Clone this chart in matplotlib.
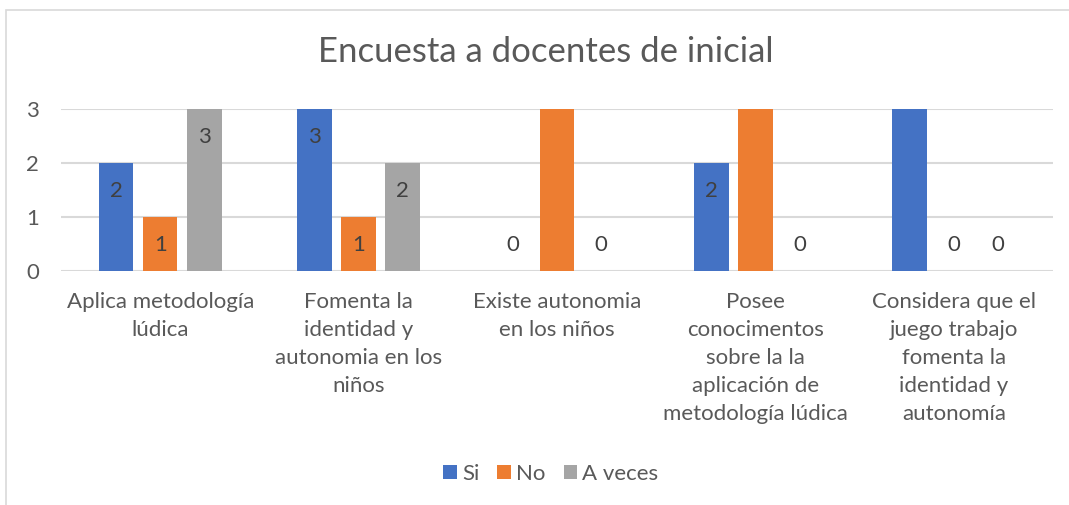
import matplotlib.pyplot as plt
import numpy as np
from matplotlib.patches import Rectangle

plt.rcParams['font.family'] = ['Lato', 'DejaVu Sans']

categories = [
    "Aplica metodología\nlúdica",
    "Fomenta la\nidentidad y\nautonomia en los\nniños",
    "Existe autonomia\nen los niños",
    "Posee\nconocimentos\nsobre la la\naplicación de\nmetodología lúdica",
    "Considera que el\njuego trabajo\nfomenta la\nidentidad y\nautonomía",
]
series = ["Si", "No", "A veces"]
si = [2, 3, 0, 2, 3]
no = [1, 1, 3, 3, 0]
a_veces = [3, 2, 0, 0, 0]
# data labels that were shown in the original chart
si_lbl = [True, True, True, True, False]
no_lbl = [True, True, False, False, True]
a_veces_lbl = [True, True, True, True, True]

colors = ['#4472C4', '#ED7D31', '#A5A5A5']
txt = '#595959'

fig = plt.figure(figsize=(10.69, 5.05), dpi=100)
ax = fig.add_axes([61/1069, 1-271/505, (1053-61)/1069, (271-109)/505])

# chart frame
fig.patches.append(Rectangle((6/1069, -0.1), 1.2, 1-10/505+0.1, transform=fig.transFigure,
                             fill=False, edgecolor='#D9D9D9', linewidth=1.2))

x = np.arange(len(categories))
step = 0.222
width = 0.174
for i, (vals, shows) in enumerate(zip([si, no, a_veces], [si_lbl, no_lbl, a_veces_lbl])):
    xs = x + (i - 1) * step
    ax.bar(xs, vals, width, color=colors[i], label=series[i], zorder=3)
    for xv, v, s in zip(xs, vals, shows):
        if not s:
            continue
        if v > 0:
            ax.annotate(str(v), (xv, v), xytext=(0, -20), textcoords='offset points',
                        ha='center', va='center', fontsize=16, color='#404040', zorder=4)
        else:
            ax.annotate(str(v), (xv, 0), xytext=(0, 19), textcoords='offset points',
                        ha='center', va='center', fontsize=16, color='#404040', zorder=4)

ax.set_xlim(-0.5, len(categories) - 0.5)
ax.set_ylim(0, 3)
ax.set_yticks([0, 1, 2, 3])
ax.yaxis.grid(True, color='#D9D9D9', linewidth=1.5, zorder=0)
ax.set_axisbelow(True)
for sp in ax.spines.values():
    sp.set_visible(False)
ax.set_xticks(x)
ax.set_xticklabels(categories, fontsize=16, color=txt, linespacing=1.5, va='top')
ax.tick_params(axis='both', length=0, labelsize=16, labelcolor=txt)
ax.tick_params(axis='x', pad=15)
ax.tick_params(axis='y', pad=16)

fig.text(546/1069, 1-52/505, "Encuesta a docentes de inicial", ha='center', va='center',
         fontsize=25, color=txt)

handles, labels = ax.get_legend_handles_labels()
fig.legend(handles, labels, loc='center', bbox_to_anchor=(551/1069, 1-474/505), ncol=3,
           frameon=False, fontsize=16, labelcolor=txt, handlelength=0.6, handleheight=0.6,
           handletextpad=0.25, columnspacing=0.8)

fig.savefig('out.png', dpi=100)
